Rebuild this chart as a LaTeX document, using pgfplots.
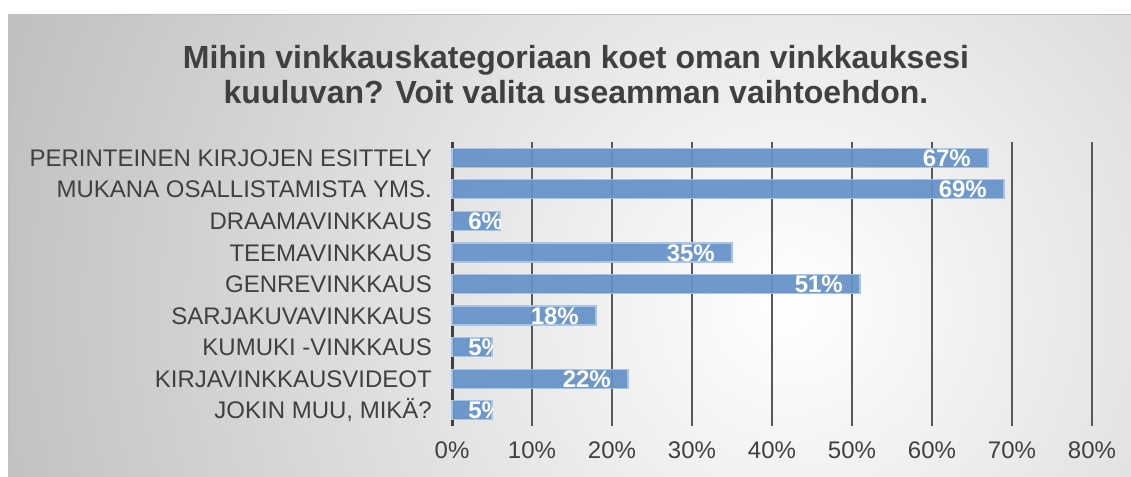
\documentclass[border=0pt]{standalone}
\usepackage{pgfplots}
\pgfplotsset{compat=1.18}
\usepackage{fontspec}
\setmainfont{Liberation Sans}
\definecolor{txt}{HTML}{404040}
\definecolor{barfill}{HTML}{6592C8}
\definecolor{baredge}{HTML}{A8C4E4}
\definecolor{bgout}{HTML}{BABABA}
\definecolor{gridc}{HTML}{595959}
\newcommand{\cliplab}[2]{\tikz[baseline=0pt]{\clip (0pt,-6pt) rectangle (#1pt,20pt); \node[anchor=base west,inner sep=0pt,text=white,font=\fontsize{24}{24}\selectfont\bfseries] at (0pt,0pt) {#2\%};}}
\begin{document}
\begin{tikzpicture}
\useasboundingbox (0pt,0pt) rectangle (1131pt,476pt);
\fill[white] (0pt,0pt) rectangle (1131pt,476pt);
\begin{scope}
\clip (8pt,0pt) rectangle (1131pt,461pt);
\shade[inner color=white, outer color=bgout] (790pt,170pt) circle (900pt);
\end{scope}
\draw[black!25, line width=1pt] (8pt,0pt) -- (8pt,461pt) -- (1131pt,461pt);
\node[font=\fontsize{32}{35}\selectfont\bfseries, text=txt, align=center] at (576pt,401pt)
  {Mihin vinkkauskategoriaan koet oman vinkkauksesi\\kuuluvan? Voit valita useamman vaihtoehdon.};
\begin{axis}[
  at={(452pt,50pt)}, anchor=south west,
  scale only axis, width=640pt, height=284pt,
  xmin=0, xmax=80, ymin=-0.5, ymax=8.5, y dir=reverse,
  axis line style={draw=none},
  major tick length=0pt,
  /pgf/number format/assume math mode=true,
  xtick={0,10,...,80},
  xticklabel={\pgfmathprintnumber{\tick}\%},
  xticklabel style={font=\fontsize{24}{24}\selectfont, text=txt, inner sep=0pt, anchor=center, yshift=-24pt},
  ytick={0,...,8},
  yticklabels={PERINTEINEN KIRJOJEN ESITTELY, MUKANA OSALLISTAMISTA YMS., DRAAMAVINKKAUS, TEEMAVINKKAUS, GENREVINKKAUS, SARJAKUVAVINKKAUS, KUMUKI -VINKKAUS, KIRJAVINKKAUSVIDEOT, {JOKIN MUU, MIKÄ?}},
  yticklabel style={font=\fontsize{24}{24}\selectfont, text=txt, inner sep=0pt, anchor=base east, xshift=-20pt, yshift=-8.6pt},
  xmajorgrids, grid style={gridc, line width=1.3pt},
  extra x ticks={0}, extra x tick labels={},
  extra x tick style={grid style={txt, line width=3pt}},
  clip=false,
]
\addplot[xbar, bar width=19pt, fill=barfill, fill opacity=0.93, draw=baredge, line width=1.2pt]
  coordinates {(67,0) (69,1) (6,2) (35,3) (51,4) (18,5) (5,6) (22,7) (5,8)};
\addplot[draw=none, mark=none, nodes near coords, point meta=explicit symbolic,
  every node near coord/.style={anchor=base east, inner sep=0pt, xshift=-17pt, yshift=-8.6pt, text=white, font=\fontsize{24}{24}\selectfont\bfseries}]
  coordinates {(67,0) [67\%] (69,1) [69\%] (35,3) [35\%] (51,4) [51\%] (18,5) [18\%] (22,7) [22\%]};
\addplot[draw=none, mark=none, nodes near coords, point meta=explicit symbolic,
  every node near coord/.style={anchor=base west, inner sep=0pt, xshift=16pt, yshift=-8.6pt}]
  coordinates {(0,2) [\cliplab{32}{6}] (0,6) [\cliplab{24}{5}] (0,8) [\cliplab{24}{5}]};
\end{axis}
\end{tikzpicture}
\end{document}
